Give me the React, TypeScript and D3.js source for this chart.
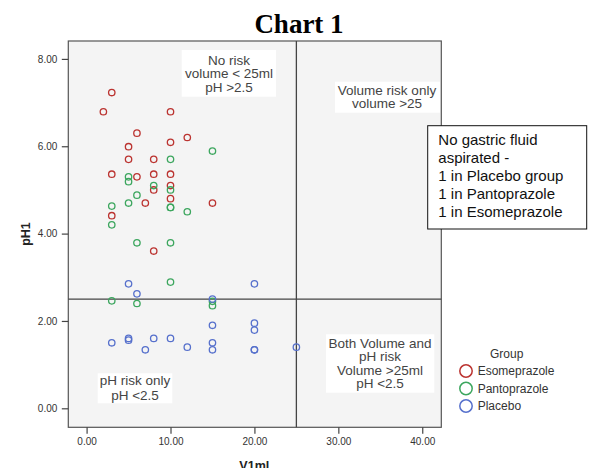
import * as React from 'react';
import { useEffect, useRef } from 'react';
import * as d3 from 'd3';

// V1ml / pH1 per group
const esoV = [3, 2, 10, 6, 5, 10, 12, 5, 8, 3, 6, 8, 10, 10, 8, 10, 7, 15, 3, 8];
const esoPH = [7.23, 6.79, 6.79, 6.3, 5.99, 6.09, 6.2, 5.7, 5.7, 5.36, 5.3, 5.36, 5.36, 5.1, 5.0, 4.8, 4.7, 4.7, 4.41, 3.6];

const pantoV = [15, 10, 5, 5, 8, 10, 6, 5, 3, 10, 10, 12, 3, 6, 10, 10, 3, 6, 15, 15];
const pantoPH = [5.89, 5.7, 5.3, 5.19, 5.1, 5.0, 4.88, 4.7, 4.63, 4.6, 4.6, 4.5, 4.2, 3.79, 3.79, 2.89, 2.46, 2.4, 2.35, 2.45];

const placV = [5, 20, 6, 15, 15, 20, 20, 3, 5, 5, 8, 10, 7, 12, 15, 15, 20, 20, 25];
const placPH = [2.85, 2.85, 2.62, 2.5, 1.9, 1.95, 1.79, 1.5, 1.6, 1.56, 1.6, 1.6, 1.34, 1.4, 1.5, 1.34, 1.34, 1.34, 1.4];

const groups = ['Esomeprazole', 'Pantoprazole', 'Placebo'];
const groupColors = ['#bb3330', '#3ca65e', '#5670cc'];
const xTicks = [0, 10, 20, 30, 40];
const yTicks = [0, 2, 4, 6, 8];
const volumeCut = 25;
const phCut = 2.5;

const W = 592;
const H = 468;
const plot = { left: 68.3, right: 441.3, top: 41, bottom: 427.3 };
const sans = '"Liberation Sans", Arial, sans-serif';

export default function App() {
  const xAxisRef = useRef<SVGGElement>(null);
  const yAxisRef = useRef<SVGGElement>(null);

  const x = d3.scaleLinear().domain([-2.18, 42.27]).range([plot.left, plot.right]);
  const y = d3.scaleLinear().domain([-0.435, 8.41]).range([plot.bottom, plot.top]);

  const series = [
    { v: esoV, ph: esoPH },
    { v: pantoV, ph: pantoPH },
    { v: placV, ph: placPH },
  ];

  useEffect(() => {
    const fmt = d3.format('.2f');
    const xa = d3.select(xAxisRef.current!);
    xa.call(d3.axisBottom(x).tickValues(xTicks).tickFormat((d) => fmt(d as number)).tickSize(6.5).tickPadding(4.5) as any);
    const ya = d3.select(yAxisRef.current!);
    ya.call(d3.axisLeft(y).tickValues(yTicks).tickFormat((d) => fmt(d as number)).tickSize(6.5).tickPadding(4.5) as any);
    [xa, ya].forEach((g) => {
      g.select('.domain').remove();
      g.selectAll('line').attr('stroke', '#444').attr('stroke-width', 1.2);
      g.selectAll('text').attr('fill', '#333').style('font-family', sans).style('font-size', '10px');
    });
  }, []);

  const box = (
    x0: number, y0: number, x1: number, y1: number,
    lines: string[], firstBase: number, step: number, cx: number,
  ) => (
    <g>
      <rect x={x0} y={y0} width={x1 - x0} height={y1 - y0} fill="#fff" />
      {lines.map((t, i) => (
        <text key={i} x={cx} y={firstBase + i * step} textAnchor="middle"
          fontFamily={sans} fontSize={13.5} fill="#444">{t}</text>
      ))}
    </g>
  );

  return (
    <svg width={W} height={H} style={{ position: 'absolute', left: 0, top: 0, background: '#fff' }}>
      <text x={299} y={32.5} textAnchor="middle" fontFamily='"Liberation Serif", "Times New Roman", serif'
        fontWeight="bold" fontSize={27} fill="#000">Chart 1</text>

      <rect x={plot.left} y={plot.top} width={plot.right - plot.left} height={plot.bottom - plot.top}
        fill="#f4f4f4" stroke="#555" strokeWidth={1.2} />

      {box(181.7, 50, 276, 96.7, ['No risk', 'volume < 25ml', 'pH >2.5'], 64.5, 13.5, 229)}
      {box(335, 81.7, 440, 112.7, ['Volume risk only', 'volume >25'], 94.7, 13.3, 387)}
      {box(97.7, 373.3, 172.3, 403.3, ['pH risk only', 'pH <2.5'], 385.3, 14.3, 135)}
      {box(326, 334.3, 434.3, 392.7, ['Both Volume and', 'pH risk', 'Volume >25ml', 'pH <2.5'], 348, 13.3, 380)}

      <line x1={plot.left} x2={plot.right} y1={y(phCut)} y2={y(phCut)} stroke="#444" strokeWidth={1.3} />
      <line x1={x(volumeCut)} x2={x(volumeCut)} y1={plot.top} y2={plot.bottom} stroke="#444" strokeWidth={1.3} />

      {series.map((s, gi) => (
        <g key={gi}>
          {s.v.map((v, i) => (
            <circle key={i} cx={x(v)} cy={y(s.ph[i])} r={3.2} fill="none"
              stroke={groupColors[gi]} strokeWidth={1.3} />
          ))}
        </g>
      ))}

      <g ref={xAxisRef} transform={`translate(0,${plot.bottom})`} />
      <g ref={yAxisRef} transform={`translate(${plot.left},0)`} />

      <text x={254.3} y={470} textAnchor="middle" fontFamily={sans} fontWeight="bold" fontSize={12.5} fill="#222">V1ml</text>
      <text transform={`translate(29.5,234) rotate(-90)`} textAnchor="middle" fontFamily={sans}
        fontWeight="bold" fontSize={12.5} fill="#222">pH1</text>

      <rect x={427.7} y={125.7} width={159} height={103.3} fill="#fff" stroke="#111" strokeWidth={1} />
      {['No gastric fluid', 'aspirated -', '1 in Placebo group', '1 in Pantoprazole', '1 in Esomeprazole'].map((t, i) => (
        <text key={i} x={438.3} y={144.8 + i * 18} fontFamily={sans} fontSize={15} fill="#111">{t}</text>
      ))}

      <text x={506.7} y={357.5} textAnchor="middle" fontFamily={sans} fontSize={12} fill="#333">Group</text>
      {groups.map((g, i) => (
        <g key={g}>
          <circle cx={466} cy={371 + i * 17.5} r={6.2} fill="none" stroke={groupColors[i]} strokeWidth={1.5} />
          <text x={477.7} y={375.3 + i * 17.5} fontFamily={sans} fontSize={12} fill="#333">{g}</text>
        </g>
      ))}
    </svg>
  );
}
